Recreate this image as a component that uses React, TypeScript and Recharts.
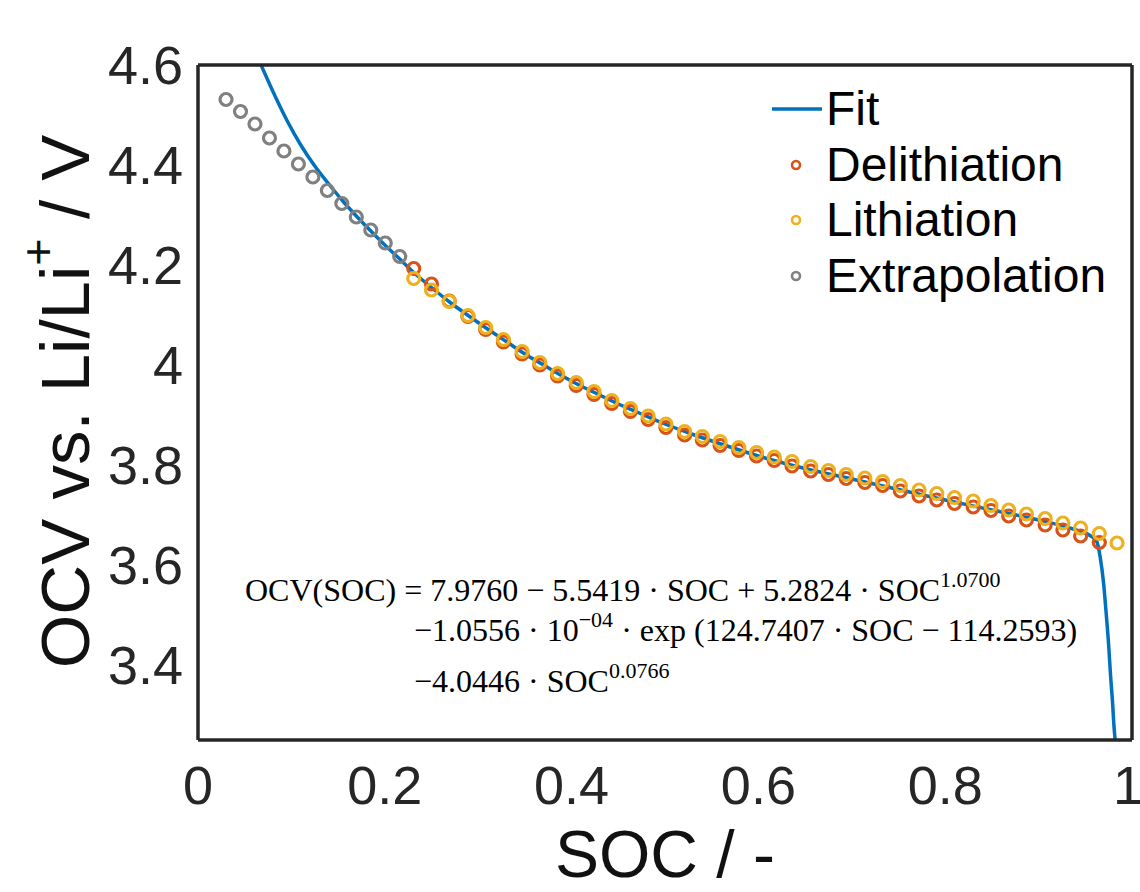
import React from 'react'
import { ComposedChart, Line, Scatter, XAxis, YAxis, Legend } from 'recharts'

const xTicks = [0, 0.2, 0.4, 0.6, 0.8, 1]
const yTicks = [3.4, 3.6, 3.8, 4, 4.2, 4.4, 4.6]

// Extrapolation points (grey)
const extrapSoc = [0.03, 0.0455, 0.061, 0.0765, 0.092, 0.1075, 0.123, 0.1385, 0.154, 0.1695, 0.185, 0.2005, 0.216]
const extrapOcv = [4.531, 4.507, 4.482, 4.454, 4.428, 4.402, 4.376, 4.349, 4.323, 4.296, 4.27, 4.244, 4.217]

// measured SOC grid (lithiation has one more point at the end)
const measSoc = [
  0.231, 0.25, 0.269, 0.289, 0.308, 0.327, 0.347, 0.366, 0.385, 0.405,
  0.424, 0.443, 0.463, 0.482, 0.501, 0.521, 0.54, 0.559, 0.579, 0.598,
  0.617, 0.636, 0.656, 0.675, 0.694, 0.714, 0.733, 0.752, 0.772, 0.791,
  0.81, 0.83, 0.849, 0.868, 0.887, 0.907, 0.926, 0.945, 0.965, 0.984,
]
const lithOcv = [
  4.173, 4.15, 4.127, 4.099, 4.075, 4.051, 4.027, 4.005, 3.983, 3.965,
  3.947, 3.929, 3.913, 3.898, 3.882, 3.867, 3.857, 3.847, 3.835, 3.825,
  3.816, 3.807, 3.797, 3.789, 3.781, 3.774, 3.767, 3.759, 3.75, 3.743,
  3.735, 3.728, 3.719, 3.71, 3.702, 3.693, 3.684, 3.674, 3.663, 3.644,
]
const delithOcv = [
  4.193, 4.162, 4.128, 4.097, 4.071, 4.046, 4.022, 4.0, 3.978, 3.959,
  3.941, 3.923, 3.907, 3.891, 3.875, 3.86, 3.85, 3.839, 3.829, 3.818,
  3.809, 3.798, 3.788, 3.781, 3.773, 3.765, 3.759, 3.748, 3.738, 3.73,
  3.723, 3.716, 3.709, 3.698, 3.69, 3.68, 3.67, 3.658, 3.645,
]

// fit curve
const fitSoc = [
  0.0675, 0.08, 0.095, 0.11, 0.125, 0.14, 0.155, 0.17, 0.185, 0.2,
  0.216, 0.231, 0.25, 0.27, 0.29, 0.31, 0.33, 0.35, 0.37, 0.39,
  0.41, 0.43, 0.45, 0.47, 0.5, 0.53, 0.56, 0.6, 0.65, 0.7,
  0.75, 0.8, 0.85, 0.9, 0.94, 0.955, 0.962, 0.966, 0.9695, 0.9725,
  0.975, 0.977, 0.979, 0.981, 0.982,
]
const fitOcv = [
  4.6, 4.548, 4.49, 4.44, 4.398, 4.362, 4.328, 4.297, 4.268, 4.24,
  4.212, 4.185, 4.155, 4.125, 4.098, 4.072, 4.047, 4.022, 4.0, 3.978,
  3.958, 3.94, 3.922, 3.906, 3.882, 3.861, 3.842, 3.818, 3.793, 3.772,
  3.751, 3.73, 3.71, 3.69, 3.67, 3.659, 3.648, 3.615, 3.565, 3.5,
  3.44, 3.38, 3.33, 3.27, 3.25,
]

const fitData = fitSoc.map((soc, i) => ({ soc, ocv: fitOcv[i] }))
const delithData = delithOcv.map((ocv, i) => ({ soc: measSoc[i], ocv }))
const lithData = lithOcv.map((ocv, i) => ({ soc: measSoc[i], ocv }))
const extrapData = extrapSoc.map((soc, i) => ({ soc, ocv: extrapOcv[i] }))

const BLUE = '#0072BD'
const RED = '#D95319'
const YELLOW = '#EDB120'
const GREY = '#808080'
const AXIS = '#262626'

const legendItems = [
  { name: 'Fit', color: BLUE, kind: 'line' },
  { name: 'Delithiation', color: RED, kind: 'ring' },
  { name: 'Lithiation', color: YELLOW, kind: 'ring' },
  { name: 'Extrapolation', color: GREY, kind: 'ring' },
]

const ring = (color: string) => (props: any) => (
  <circle cx={props.cx} cy={props.cy} r={6} fill="none" stroke={color} strokeWidth={3.2} />
)

function renderLegend() {
  return (
    <div style={{ fontFamily: 'Liberation Sans, Arial, sans-serif', fontSize: 48, color: '#000' }}>
      {legendItems.map((item) => (
        <div key={item.name} style={{ display: 'flex', alignItems: 'center', height: 55.7 }}>
          <svg width={61} height={56} style={{ flex: 'none' }}>
            {item.kind === 'line' ? (
              <line x1={7} x2={57} y1={28} y2={28} stroke={BLUE} strokeWidth={3.5} />
            ) : (
              <circle cx={31} cy={28} r={4} fill="none" stroke={item.color} strokeWidth={2.6} />
            )}
          </svg>
          <span style={{ lineHeight: '56px' }}>{item.name}</span>
        </div>
      ))}
    </div>
  )
}

const tickStyle = { fontSize: 54, fill: AXIS, fontFamily: 'Liberation Sans, Arial, sans-serif' }

// x tick labels; the last one is nudged so it stays inside the picture
const XTick = (props: any) => {
  const last = props.payload.value === 1
  return (
    <text
      x={props.x + (last ? -4 : 0)}
      y={props.y}
      dy="0.71em"
      textAnchor="middle"
      {...tickStyle}
    >
      {props.payload.value}
    </text>
  )
}

const eqStyle: React.CSSProperties = {
  position: 'absolute',
  fontFamily: 'Liberation Serif, Times New Roman, serif',
  fontSize: 32,
  color: '#000',
  whiteSpace: 'nowrap',
  lineHeight: '36px',
}
const supStyle: React.CSSProperties = { fontSize: 22, verticalAlign: 'baseline', position: 'relative', top: -14 }

export default function App() {
  return (
    <div style={{ position: 'absolute', left: 0, top: 0, width: 1140, height: 892, background: '#fff' }}>
      <ComposedChart width={1140} height={892} margin={{ top: 65, right: 8, bottom: 52, left: 98 }}>
        <XAxis
          xAxisId="b"
          dataKey="soc"
          type="number"
          domain={[0, 1]}
          ticks={xTicks}
          height={100}
          tickLine={false}
          tickSize={0}
          tickMargin={26}
          axisLine={{ stroke: AXIS, strokeWidth: 3.5 }}
          tick={<XTick />}
          label={{
            content: (p: any) => (
              <text
                x={p.viewBox.x + p.viewBox.width / 2}
                y={p.viewBox.y + 137}
                textAnchor="middle"
                fontSize={66}
                fontFamily="Liberation Sans, Arial, sans-serif"
                fill="#111"
              >
                SOC / -
              </text>
            ),
          }}
        />
        <XAxis
          xAxisId="bm"
          dataKey="soc"
          type="number"
          domain={[0, 1]}
          ticks={xTicks}
          orientation="bottom"
          mirror
          tick={false}
          tickSize={10}
          tickLine={{ stroke: AXIS, strokeWidth: 3 }}
          axisLine={false}
        />
        <XAxis
          xAxisId="t"
          dataKey="soc"
          type="number"
          domain={[0, 1]}
          ticks={xTicks}
          orientation="top"
          mirror
          tick={false}
          tickSize={10}
          tickLine={{ stroke: AXIS, strokeWidth: 3 }}
          axisLine={{ stroke: AXIS, strokeWidth: 3.5 }}
        />
        <YAxis
          yAxisId="l"
          dataKey="ocv"
          type="number"
          domain={[3.25, 4.6]}
          allowDataOverflow
          ticks={yTicks}
          width={100}
          tickLine={false}
          tickSize={0}
          tickMargin={15}
          axisLine={{ stroke: AXIS, strokeWidth: 3.5 }}
          tick={tickStyle}
          label={{
            content: (p: any) => {
              const cx = p.viewBox.x - 33
              const cy = p.viewBox.y + p.viewBox.height / 2 - 1
              return (
                <text
                  x={cx}
                  y={cy}
                  transform={`rotate(-90 ${cx} ${cy})`}
                  textAnchor="middle"
                  dominantBaseline="central"
                  fontSize={69}
                  fontFamily="Liberation Sans, Arial, sans-serif"
                  fill="#111"
                >
                  OCV vs. Li/Li
                  <tspan fontSize={47} dy={-28}>+</tspan>
                  <tspan dy={28}> / V</tspan>
                </text>
              )
            },
          }}
        />
        <YAxis
          yAxisId="lm"
          dataKey="ocv"
          type="number"
          domain={[3.25, 4.6]}
          ticks={yTicks}
          orientation="left"
          mirror
          tick={false}
          tickSize={10}
          tickLine={{ stroke: AXIS, strokeWidth: 3 }}
          axisLine={false}
        />
        <YAxis
          yAxisId="r"
          dataKey="ocv"
          type="number"
          domain={[3.25, 4.6]}
          ticks={yTicks}
          orientation="right"
          mirror
          tick={false}
          tickSize={10}
          tickLine={{ stroke: AXIS, strokeWidth: 3 }}
          axisLine={{ stroke: AXIS, strokeWidth: 3.5 }}
        />
        <Line
          xAxisId="b"
          yAxisId="l"
          data={fitData}
          dataKey="ocv"
          type="monotone"
          stroke={BLUE}
          strokeWidth={3.5}
          dot={false}
          isAnimationActive={false}
        />
        <Scatter xAxisId="b" yAxisId="l" data={delithData} dataKey="ocv" shape={ring(RED)} isAnimationActive={false} />
        <Scatter xAxisId="b" yAxisId="l" data={lithData} dataKey="ocv" shape={ring(YELLOW)} isAnimationActive={false} />
        <Scatter xAxisId="b" yAxisId="l" data={extrapData} dataKey="ocv" shape={ring(GREY)} isAnimationActive={false} />
        <Legend
          layout="vertical"
          align="center"
          verticalAlign="middle"
          content={renderLegend}
          wrapperStyle={{ position: 'absolute', left: 765, top: 81, width: 370 }}
        />
      </ComposedChart>
      <div style={{ ...eqStyle, left: 245, top: 572 }}>
        OCV(SOC) = 7.9760 − 5.5419 · SOC + 5.2824 · SOC<span style={supStyle}>1.0700</span>
      </div>
      <div style={{ ...eqStyle, left: 414, top: 612 }}>
        −1.0556 · 10<span style={supStyle}>−04</span> · exp (124.7407 · SOC − 114.2593)
      </div>
      <div style={{ ...eqStyle, left: 414, top: 663 }}>
        −4.0446 · SOC<span style={supStyle}>0.0766</span>
      </div>
    </div>
  )
}
